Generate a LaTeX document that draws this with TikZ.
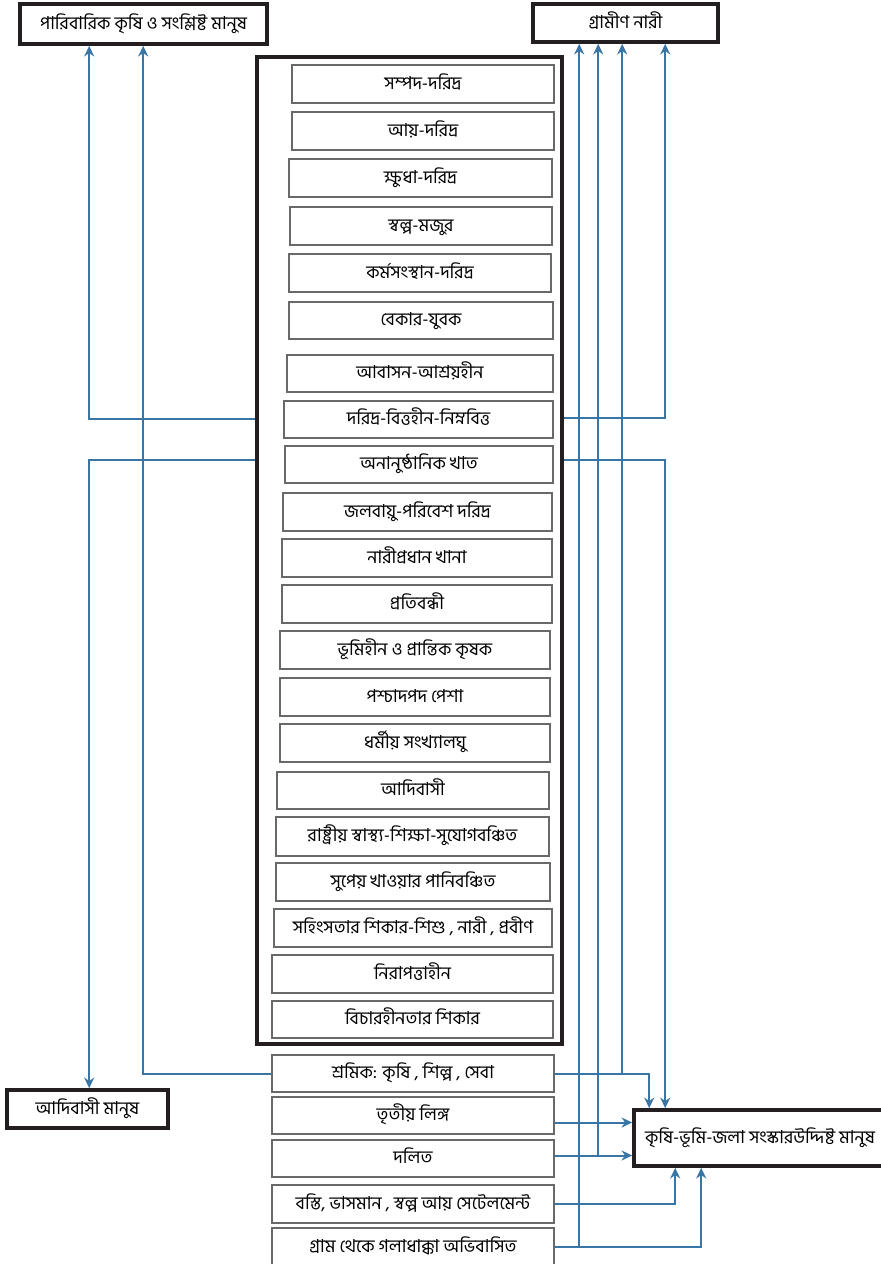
\documentclass[tikz,border=0pt]{standalone}
\usepackage{fontspec}
\newfontfamily\bn[Script=Bengali]{Hind Siliguri}
\usetikzlibrary{arrows.meta,calc}
\definecolor{arrc}{RGB}{58,118,165}
\definecolor{boxc}{RGB}{35,31,32}
\definecolor{itemc}{RGB}{105,105,105}
\begin{document}
\begin{tikzpicture}[x=0.75pt,y=-0.75pt,
  txt/.style={font=\bn\fontsize{13.4}{15}\selectfont, text height=0.95em, text depth=0.15em, align=center},
  wh/.style 2 args={minimum width=#1*0.75pt, minimum height=#2*0.75pt},
  item/.style={txt, draw=itemc, line width=1.2pt, inner sep=0pt},
  major/.style={txt, draw=boxc, line width=2.7pt, inner sep=0pt},
  arr/.style={draw=arrc, line width=1.5pt, -{Stealth[length=8pt,width=7.5pt]}}]
\useasboundingbox (0,0) rectangle (881,1264);

% outer target boxes
\node[major, wh={247}{40}] (fam) at (143.5,24) {পারিবারিক কৃষি ও সংশ্লিষ্ট মানুষ};
\node[major, wh={185}{38}] (gram) at (625.5,23) {গ্রামীণ নারী};
\node[major, wh={161}{38}] (adi) at (87.5,1109) {আদিবাসী মানুষ};
\node[major, wh={252}{56}] (kr) at (760,1138) {কৃষি-ভূমি-জলা সংস্কারউদ্দিষ্ট মানুষ};

% big frame
\node[major, wh={305}{987}] (big) at (409.5,550.5) {};

% inner items
\node[item, wh={262}{38}] (b1) at (423,84) {সম্পদ-দরিদ্র};
\node[item, wh={262}{38}] (b2) at (423,131) {আয়-দরিদ্র};
\node[item, wh={263}{38}] (b3) at (420.5,178) {ক্ষুধা-দরিদ্র};
\node[item, wh={262}{38}] (b4) at (421,226) {স্বল্প-মজুর};
\node[item, wh={262}{38}] (b5) at (420,273) {কর্মসংস্থান-দরিদ্র};
\node[item, wh={264}{37}] (b6) at (421,320.5) {বেকার-যুবক};
\node[item, wh={266}{37}] (b7) at (420,373.5) {আবাসন-আশ্রয়হীন};
\node[item, wh={269}{37}] (b8) at (418.5,419.5) {দরিদ্র-বিত্তহীন-নিম্নবিত্ত};
\node[item, wh={268}{37}] (b9) at (419,464.5) {অনানুষ্ঠানিক খাত};
\node[item, wh={269}{38}] (b10) at (417.5,512) {জলবায়ু-পরিবেশ দরিদ্র};
\node[item, wh={270}{38}] (b11) at (417,558) {নারীপ্রধান খানা};
\node[item, wh={270}{38}] (b12) at (417,604) {প্রতিবন্ধী};
\node[item, wh={270}{38}] (b13) at (415,650) {ভূমিহীন ও প্রান্তিক কৃষক};
\node[item, wh={270}{38}] (b14) at (415,697) {পশ্চাদপদ পেশা};
\node[item, wh={270}{38}] (b15) at (415,743) {ধর্মীয় সংখ্যালঘু};
\node[item, wh={272}{37}] (b16) at (413,790.5) {আদিবাসী};
\node[item, wh={273}{39}] (b17) at (412.5,836.5) {রাষ্ট্রীয় স্বাস্থ্য-শিক্ষা-সুযোগবঞ্চিত};
\node[item, wh={274}{38}] (b18) at (413,882) {সুপেয় খাওয়ার পানিবঞ্চিত};
\node[item, wh={278}{38}] (b19) at (413,928) {সহিংসতার শিকার-শিশু , নারী , প্রবীণ};
\node[item, wh={281}{38}] (b20) at (412.5,974) {নিরাপত্তাহীন};
\node[item, wh={281}{37}] (b21) at (412.5,1019.5) {বিচারহীনতার শিকার};

% lower items
\node[item, wh={282}{37}] (s1) at (413,1073.5) {শ্রমিক: কৃষি , শিল্প , সেবা};
\node[item, wh={282}{37}] (s2) at (413,1115.5) {তৃতীয় লিঙ্গ};
\node[item, wh={282}{37}] (s3) at (413,1158.5) {দলিত};
\node[item, wh={282}{38}] (s4) at (413,1204) {বস্তি, ভাসমান , স্বল্প আয় সেটেলমেন্ট};
\node[item, wh={282}{38}] (s5) at (413,1247) {গ্রাম থেকে গলাধাক্কা অভিবাসিত};

% junction coordinates
\coordinate (ja) at ($(gram.south west)+(48,0)$);
\coordinate (jb) at ($(gram.south west)+(67,0)$);
\coordinate (jc) at ($(gram.south west)+(91,0)$);

% left connectors
\draw[arr] ($(b8.west -| big.west)+(0,-1)$) -| ($(fam.south west)+(71,0)$);
\draw[arr] ($(b9.west -| big.west)+(0,-5)$) -| ($(adi.north west)+(84,0)$);
\draw[arr] (s1.west) -| ($(fam.south west)+(125,0)$);

% right connectors
\draw[arr] ($(b8.east -| big.east)+(0,-2)$) -| ($(gram.south west)+(134,0)$);
\draw[arr] ($(b9.east -| big.east)+(0,-5)$) -| ($(kr.north west)+(33,0)$);
\draw[arr] (s1.east) -| ($(kr.north west)+(17,0)$);
\draw[arr] ($(s2.east)+(0,7)$) -- ($(s2.east -| kr.west)+(0,7)$);
\draw[arr] ($(s3.east)+(0,-3)$) -- ($(s3.east -| kr.west)+(0,-3)$);
\draw[arr] (s4.east) -| ($(kr.south west)+(43,0)$);
\draw[arr] (s5.east) -| ($(kr.south west)+(69,0)$);

% up to rural women
\draw[arr] (s5.east -| ja) -- (ja);
\draw[arr] ($(s3.east -| jb)+(0,-3)$) -- (jb);
\draw[arr] (s1.east -| jc) -- (jc);
\end{tikzpicture}
\end{document}
